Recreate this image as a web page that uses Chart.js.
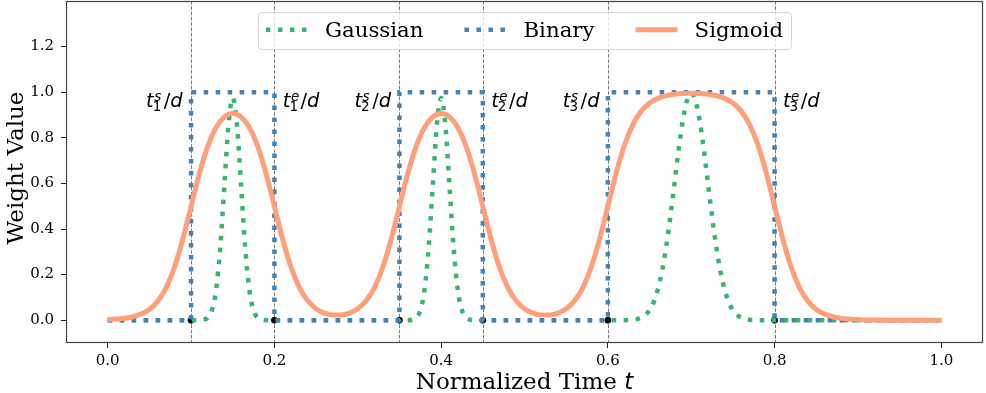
<!DOCTYPE html>
<html>
<head>
<meta charset="utf-8">
<script src="https://cdn.jsdelivr.net/npm/chart.js@4.4.1/dist/chart.umd.min.js"></script>
<style>
  html, body { margin: 0; padding: 0; background: #fff; }
  canvas { display: block; }
</style>
</head>
<body>
<canvas id="weightChart" width="986" height="393"></canvas>
<script>
// --- data ---
const sigmoidTimes = [
  0.00, 0.01, 0.02, 0.03, 0.04, 0.05, 0.06, 0.07, 0.08, 0.09,
  0.10, 0.11, 0.12, 0.13, 0.14, 0.15, 0.16, 0.17, 0.18, 0.19,
  0.20, 0.21, 0.22, 0.23, 0.24, 0.25, 0.26, 0.27, 0.28, 0.29,
  0.30, 0.31, 0.32, 0.33, 0.34, 0.35, 0.36, 0.37, 0.38, 0.39,
  0.40, 0.41, 0.42, 0.43, 0.44, 0.45, 0.46, 0.47, 0.48, 0.49,
  0.50, 0.51, 0.52, 0.53, 0.54, 0.55, 0.56, 0.57, 0.58, 0.59,
  0.60, 0.61, 0.62, 0.63, 0.64, 0.65, 0.66, 0.67, 0.68, 0.69,
  0.70, 0.71, 0.72, 0.73, 0.74, 0.75, 0.76, 0.77, 0.78, 0.79,
  0.80, 0.81, 0.82, 0.83, 0.84, 0.85, 0.86, 0.87, 0.88, 0.89,
  0.90, 0.91, 0.92, 0.93, 0.94, 0.95, 0.96, 0.97, 0.98, 0.99,
  1.00
];
const sigmoidWeight = [
  0.003, 0.005, 0.008, 0.015, 0.027, 0.047, 0.083, 0.142, 0.231, 0.354,
  0.499, 0.643, 0.762, 0.845, 0.892, 0.907, 0.892, 0.845, 0.762, 0.643,
  0.499, 0.354, 0.232, 0.143, 0.085, 0.050, 0.031, 0.023, 0.023, 0.031,
  0.050, 0.085, 0.143, 0.232, 0.354, 0.499, 0.643, 0.762, 0.845, 0.892,
  0.907, 0.892, 0.845, 0.762, 0.643, 0.499, 0.354, 0.232, 0.143, 0.085,
  0.050, 0.031, 0.023, 0.023, 0.031, 0.050, 0.085, 0.143, 0.232, 0.355,
  0.500, 0.646, 0.769, 0.858, 0.917, 0.953, 0.973, 0.985, 0.991, 0.994,
  0.995, 0.994, 0.991, 0.985, 0.973, 0.953, 0.917, 0.858, 0.769, 0.646,
  0.500, 0.354, 0.232, 0.142, 0.083, 0.047, 0.027, 0.015, 0.008, 0.005,
  0.003, 0.001, 0.001, 0.000, 0.000, 0.000, 0.000, 0.000, 0.000, 0.000,
  0.000
];

const gaussTimes = [
  0.000,
  0.110, 0.115, 0.120, 0.125, 0.130, 0.135, 0.140, 0.145, 0.150,
  0.155, 0.160, 0.165, 0.170, 0.175, 0.180, 0.185, 0.190,
  0.360, 0.365, 0.370, 0.375, 0.380, 0.385, 0.390, 0.395, 0.400,
  0.405, 0.410, 0.415, 0.420, 0.425, 0.430, 0.435, 0.440,
  0.620, 0.625, 0.630, 0.635, 0.640, 0.645, 0.650, 0.655, 0.660,
  0.665, 0.670, 0.675, 0.680, 0.685, 0.690, 0.695, 0.700,
  0.705, 0.710, 0.715, 0.720, 0.725, 0.730, 0.735, 0.740,
  0.745, 0.750, 0.755, 0.760, 0.765, 0.770, 0.775, 0.780,
  1.000
];
const gaussWeight = [
  0.000,
  0.000, 0.002, 0.011, 0.043, 0.132, 0.317, 0.591, 0.860, 0.975,
  0.860, 0.591, 0.317, 0.132, 0.043, 0.011, 0.002, 0.000,
  0.000, 0.002, 0.011, 0.043, 0.132, 0.317, 0.591, 0.860, 0.975,
  0.860, 0.591, 0.317, 0.132, 0.043, 0.011, 0.002, 0.000,
  0.000, 0.001, 0.002, 0.005, 0.011, 0.023, 0.044, 0.079, 0.135,
  0.215, 0.323, 0.456, 0.603, 0.751, 0.878, 0.964, 0.995,
  0.964, 0.878, 0.751, 0.603, 0.456, 0.323, 0.215, 0.135,
  0.079, 0.044, 0.023, 0.011, 0.005, 0.002, 0.001, 0.000,
  0.000
];

const binaryTimes = [0.00, 0.10, 0.10, 0.20, 0.20, 0.35, 0.35, 0.45, 0.45, 0.60, 0.60, 0.80, 0.80, 1.00];
const binaryWeight = [0, 0, 1, 1, 0, 0, 1, 1, 0, 0, 1, 1, 0, 0];

// event start / end boundaries (t/d) and their labels
const eventBounds = [0.10, 0.20, 0.35, 0.45, 0.60, 0.80];
const eventIndex = ['1', '1', '2', '2', '3', '3'];
const eventKind = ['s', 'e', 's', 'e', 's', 'e'];
const eventLabelY = 0.935;

const xTickValues = [0.0, 0.2, 0.4, 0.6, 0.8, 1.0];
const yTickValues = [0.0, 0.2, 0.4, 0.6, 0.8, 1.0, 1.2];

const GREEN = '#3cb371';
const BLUE = '#4682b4';
const ORANGE = '#ffa07a';
const SERIF = '"DejaVu Serif", serif';
const SANS = '"DejaVu Sans", sans-serif';

Chart.defaults.font.family = SERIF;
Chart.defaults.color = '#000';

const toPoints = (xs, ys) => xs.map((x, i) => ({ x: x, y: ys[i] }));

// t_i^{s|e}/d in mathtext style
function drawMathLabel(ctx, sub, sup, x, y, align) {
  const big = 19.5, small = 13.5;
  ctx.font = `italic ${big}px ${SANS}`;
  const wt = ctx.measureText('t').width;
  ctx.font = `italic ${small}px ${SANS}`;
  const wsup = ctx.measureText(sup).width;
  ctx.font = `${small}px ${SANS}`;
  const wsub = ctx.measureText(sub).width;
  const ws = Math.max(wsup, wsub) + 1.5;
  ctx.font = `${big}px ${SANS}`;
  const wslash = ctx.measureText('/').width;
  ctx.font = `italic ${big}px ${SANS}`;
  const wd = ctx.measureText('d').width;
  const total = wt + ws + wslash + wd;
  let x0 = align === 'right' ? x - total : x;

  ctx.textAlign = 'left';
  ctx.textBaseline = 'alphabetic';
  ctx.fillStyle = '#000';
  ctx.font = `italic ${big}px ${SANS}`;
  ctx.fillText('t', x0, y);
  ctx.font = `italic ${small}px ${SANS}`;
  ctx.fillText(sup, x0 + wt + 0.5, y - 6);
  ctx.font = `${small}px ${SANS}`;
  ctx.fillText(sub, x0 + wt - 1, y + 4);
  ctx.font = `${big}px ${SANS}`;
  ctx.fillText('/', x0 + wt + ws, y);
  ctx.font = `italic ${big}px ${SANS}`;
  ctx.fillText('d', x0 + wt + ws + wslash, y);
}

const decorPlugin = {
  id: 'decor',
  beforeDatasetsDraw(chart) {
    const { ctx, chartArea: a, scales: { x } } = chart;
    ctx.save();
    ctx.strokeStyle = 'rgba(100,100,100,0.85)';
    ctx.lineWidth = 1;
    ctx.setLineDash([3.7, 1.6]);
    eventBounds.forEach(b => {
      const px = Math.round(x.getPixelForValue(b)) + 0.5;
      ctx.beginPath();
      ctx.moveTo(px, a.top);
      ctx.lineTo(px, a.bottom);
      ctx.stroke();
    });
    ctx.restore();
  },
  afterDatasetsDraw(chart) {
    const { ctx, chartArea: a, scales: { x, y } } = chart;
    ctx.save();
    const py = y.getPixelForValue(eventLabelY);
    eventBounds.forEach((b, i) => {
      const isStart = eventKind[i] === 's';
      const px = x.getPixelForValue(isStart ? b - 0.01 : b + 0.01);
      drawMathLabel(ctx, eventIndex[i], eventKind[i], px, py, isStart ? 'right' : 'left');
    });
    // axes frame
    ctx.strokeStyle = '#444';
    ctx.lineWidth = 1.2;
    ctx.strokeRect(Math.round(a.left) + 0.5, Math.round(a.top) + 0.5,
      Math.round(a.width) - 1, Math.round(a.height) - 1);
    ctx.restore();
  },
  afterDraw(chart) {
    const { ctx, chartArea: a } = chart;
    ctx.save();

    // legend (upper center, inside the axes)
    const items = chart.data.datasets.slice(0, 3);
    ctx.font = `21.3px ${SERIF}`;
    const handle = 42, textPad = 17, colGap = 41, pad = 8;
    const widths = items.map(d => ctx.measureText(d.label).width);
    const total = pad * 2 + widths.reduce((s, w) => s + handle + textPad + w, 0) + colGap * (items.length - 1);
    const cx = (a.left + a.right) / 2;
    const bx = cx - total / 2, by = 12, bh = 37;
    ctx.beginPath();
    ctx.roundRect(bx + 0.5, by + 0.5, total, bh, 4);
    ctx.fillStyle = 'rgba(255,255,255,0.8)';
    ctx.fill();
    ctx.strokeStyle = 'rgba(204,204,204,0.8)';
    ctx.lineWidth = 1;
    ctx.stroke();
    let lx = bx + pad;
    items.forEach((d, i) => {
      ctx.beginPath();
      ctx.strokeStyle = d.borderColor;
      ctx.lineWidth = d.borderWidth;
      ctx.setLineDash(d.borderDash || []);
      ctx.lineCap = 'butt';
      ctx.moveTo(lx, by + 17.7);
      ctx.lineTo(lx + handle, by + 17.7);
      ctx.stroke();
      ctx.setLineDash([]);
      ctx.fillStyle = '#000';
      ctx.textAlign = 'left';
      ctx.textBaseline = 'alphabetic';
      ctx.fillText(d.label, lx + handle + textPad, by + 24.5);
      lx += handle + textPad + widths[i] + colGap;
    });

    // x axis title: "Normalized Time t"
    const xt1 = 'Normalized Time ';
    ctx.font = `23px ${SERIF}`;
    const w1 = ctx.measureText(xt1).width;
    ctx.font = `italic 23px ${SANS}`;
    const w2 = ctx.measureText('t').width;
    const sx = cx - (w1 + w2) / 2;
    ctx.fillStyle = '#000';
    ctx.textAlign = 'left';
    ctx.textBaseline = 'alphabetic';
    ctx.font = `23px ${SERIF}`;
    ctx.fillText(xt1, sx, 389);
    ctx.font = `italic 23px ${SANS}`;
    ctx.fillText('t', sx + w1, 389);

    // y axis title
    ctx.translate(17, (a.top + a.bottom) / 2 - 4);
    ctx.rotate(-Math.PI / 2);
    ctx.font = `23px ${SERIF}`;
    ctx.textAlign = 'center';
    ctx.textBaseline = 'middle';
    ctx.fillText('Weight Value', 0, 0);
    ctx.restore();
  }
};

new Chart(document.getElementById('weightChart'), {
  type: 'line',
  data: {
    datasets: [
      {
        label: 'Gaussian',
        data: toPoints(gaussTimes, gaussWeight),
        borderColor: GREEN,
        borderWidth: 4.5,
        borderDash: [4.5, 7.5],
        cubicInterpolationMode: 'monotone',
        pointRadius: 0,
        fill: false,
        order: 3
      },
      {
        label: 'Binary',
        data: toPoints(binaryTimes, binaryWeight),
        borderColor: BLUE,
        borderWidth: 4.5,
        borderDash: [4.5, 7.5],
        tension: 0,
        pointRadius: 0,
        fill: false,
        order: 2
      },
      {
        label: 'Sigmoid',
        data: toPoints(sigmoidTimes, sigmoidWeight),
        borderColor: ORANGE,
        borderWidth: 5,
        cubicInterpolationMode: 'monotone',
        pointRadius: 0,
        fill: false,
        order: 1
      },
      {
        type: 'scatter',
        label: 'events',
        data: eventBounds.map(b => ({ x: b, y: 0 })),
        showLine: false,
        pointRadius: 3,
        pointBackgroundColor: '#000',
        pointBorderColor: '#000',
        order: 4
      }
    ]
  },
  options: {
    responsive: false,
    animation: false,
    devicePixelRatio: 1,
    layout: { autoPadding: false, padding: { left: 0, top: 1, right: 3, bottom: 0 } },
    plugins: { legend: { display: false }, tooltip: { enabled: false } },
    scales: {
      x: {
        type: 'linear',
        min: -0.05,
        max: 1.05,
        afterBuildTicks: axis => { axis.ticks = xTickValues.map(v => ({ value: v })); },
        afterFit: axis => {
          axis.height = 50;
          axis.paddingLeft = 0;
          axis.paddingRight = 0;
        },
        ticks: { callback: v => v.toFixed(1), font: { size: 15 }, color: '#000', padding: 4, maxRotation: 0 },
        grid: { drawOnChartArea: false, drawTicks: true, tickLength: 5, tickColor: '#222', tickWidth: 1 },
        border: { display: false }
      },
      y: {
        type: 'linear',
        min: -0.1,
        max: 1.4,
        afterBuildTicks: axis => { axis.ticks = yTickValues.map(v => ({ value: v })); },
        afterFit: axis => {
          axis.width = 66;
          axis.paddingTop = 0;
          axis.paddingBottom = 0;
        },
        ticks: { callback: v => v.toFixed(1), font: { size: 15 }, color: '#000', padding: 7 },
        grid: { drawOnChartArea: false, drawTicks: true, tickLength: 5, tickColor: '#222', tickWidth: 1 },
        border: { display: false }
      }
    }
  },
  plugins: [decorPlugin]
});
</script>
</body>
</html>
